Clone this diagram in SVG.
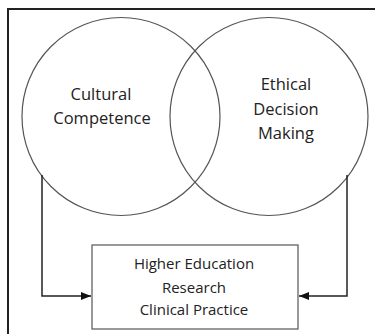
<svg xmlns="http://www.w3.org/2000/svg" width="375" height="334" viewBox="0 0 375 334">
<defs>
<style>
.t{font-family:"Open Sans","Liberation Sans",sans-serif;font-size:15px;fill:#222;text-anchor:middle}
.b{font-size:16.5px}
.c{fill:none;stroke:#555;stroke-width:1.2}
.l{fill:none;stroke:#222;stroke-width:1.5}
</style>
<marker id="ah" markerWidth="10" markerHeight="8" refX="10" refY="4" orient="auto" markerUnits="userSpaceOnUse">
<path d="M0,0 L10,4 L0,8 Z" fill="#111"/>
</marker>
</defs>
<rect width="375" height="334" fill="#fff"/>
<path d="M8,340 V9 H380" fill="none" stroke="#222" stroke-width="2"/>
<g id="cultural">
<circle class="c" cx="121" cy="116.5" r="99"/>
<text class="t b"><tspan x="101" y="100">Cultural</tspan><tspan x="102" y="124">Competence</tspan></text>
</g>
<g id="ethical">
<circle class="c" cx="269" cy="116.5" r="99"/>
<text class="t b"><tspan x="286" y="90">Ethical</tspan><tspan x="286" y="115">Decision</tspan><tspan x="286" y="139">Making</tspan></text>
</g>
<g id="outcomes">
<rect x="92" y="245" width="206" height="84" fill="#fff" stroke="#555" stroke-width="1.2"/>
<text class="t"><tspan x="194" y="269">Higher Education</tspan><tspan x="194" y="293">Research</tspan><tspan x="194" y="315">Clinical Practice</tspan></text>
</g>
<g id="connectors">
<path class="l" d="M42,175 V296 H91" marker-end="url(#ah)"/>
<path class="l" d="M347,175 V296 H299" marker-end="url(#ah)"/>
</g>
</svg>
